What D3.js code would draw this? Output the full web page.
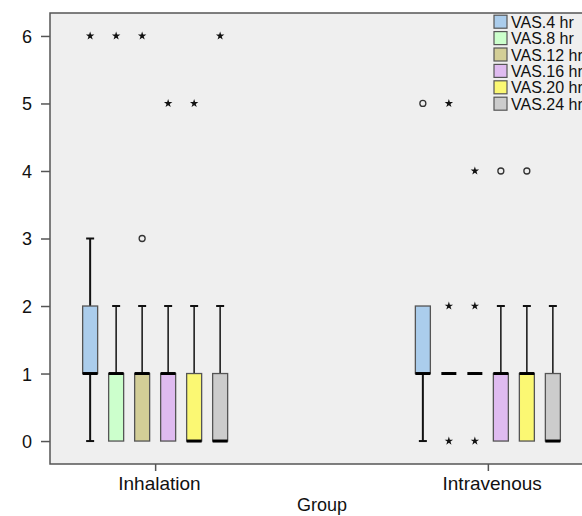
<!DOCTYPE html>
<html>
<head>
<meta charset="utf-8">
<script src="https://cdn.jsdelivr.net/npm/d3@7"></script>
<style>
  body { margin: 0; background: #fff; }
  text { font-family: "Liberation Sans", Arial, sans-serif; fill: #111; }
</style>
</head>
<body>
<div id="chart"></div>
<script>
var groups = ["Inhalation", "Intravenous"];
var series = ["VAS.4 hr", "VAS.8 hr", "VAS.12 hr", "VAS.16 hr", "VAS.20 hr", "VAS.24 hr"];
var colors = ["#abcdec", "#ccffcc", "#d3ce97", "#dfbbf0", "#fbf873", "#cccccc"];
var yTicks = [0, 1, 2, 3, 4, 5, 6];

// five number summaries, one value per series
var lowInh  = [0, 0, 0, 0, 0, 0];
var q1Inh   = [1, 0, 0, 0, 0, 0];
var medInh  = [1, 1, 1, 1, 0, 0];
var q3Inh   = [2, 1, 1, 1, 1, 1];
var highInh = [3, 2, 2, 2, 2, 2];

var lowIv  = [0, 1, 1, 0, 0, 0];
var q1Iv   = [1, 1, 1, 0, 0, 0];
var medIv  = [1, 1, 1, 1, 1, 0];
var q3Iv   = [2, 1, 1, 1, 1, 1];
var highIv = [2, 1, 1, 2, 2, 2];

// [group, series index, value]
var outliers = [["Inhalation", 2, 3], ["Intravenous", 0, 5], ["Intravenous", 3, 4], ["Intravenous", 4, 4]];
var extremes = [
  ["Inhalation", 0, 6], ["Inhalation", 1, 6], ["Inhalation", 2, 6],
  ["Inhalation", 3, 5], ["Inhalation", 4, 5], ["Inhalation", 5, 6],
  ["Intravenous", 1, 5], ["Intravenous", 1, 2], ["Intravenous", 1, 0],
  ["Intravenous", 2, 4], ["Intravenous", 2, 2], ["Intravenous", 2, 0]
];

var boxes = [];
groups.forEach(function(g, gi) {
  var lo = gi == 0 ? lowInh : lowIv, a = gi == 0 ? q1Inh : q1Iv, m = gi == 0 ? medInh : medIv,
      b = gi == 0 ? q3Inh : q3Iv, hi = gi == 0 ? highInh : highIv;
  series.forEach(function(s, i) {
    boxes.push({group: g, i: i, lo: lo[i], q1: a[i], med: m[i], q3: b[i], hi: hi[i]});
  });
});

var width = 582, height = 516;
var margin = {left: 50, top: 13, right: 593, bottom: 464};

var svg = d3.select("#chart").append("svg")
  .attr("width", width)
  .attr("height", height);

var x = d3.scalePoint().domain(groups).range([margin.left, margin.right]).padding(0.316);
var inner = d3.scaleBand().domain(d3.range(series.length)).range([-78, 78]);
var y = d3.scaleLinear().domain([-0.34, 6.34]).range([margin.bottom, margin.top]);

var bw = 15, cap = 8;
function cx(g, i) { return x(g) + inner(i) + inner.bandwidth() / 2; }

svg.append("rect")
  .attr("x", margin.left).attr("y", margin.top)
  .attr("width", margin.right - margin.left).attr("height", margin.bottom - margin.top)
  .attr("fill", "#efefef")
  .attr("stroke", "#555").attr("stroke-width", 1.5);

// y axis
var ya = svg.append("g").attr("transform", "translate(" + margin.left + ",0)")
  .call(d3.axisLeft(y).tickValues(yTicks).tickFormat(d3.format("d")).tickSize(9).tickPadding(9));
ya.select(".domain").remove();
ya.selectAll("line").attr("stroke", "#555").attr("stroke-width", 1.5);
ya.selectAll("text").style("font-size", "18px").attr("fill", "#111").attr("dy", "0.36em");

// x axis
var xa = svg.append("g").attr("transform", "translate(0," + margin.bottom + ")")
  .call(d3.axisBottom(x).tickSize(7).tickPadding(6));
xa.select(".domain").remove();
xa.selectAll("line").attr("stroke", "#555").attr("stroke-width", 1.5);
xa.selectAll("text").style("font-size", "19px").attr("fill", "#111").attr("dx", "0.2em");

svg.append("text")
  .attr("x", 322).attr("y", 511)
  .attr("text-anchor", "middle")
  .style("font-size", "18px")
  .text("Group");

var bg = svg.append("g").selectAll("g").data(boxes).enter().append("g");

// whiskers
bg.append("line")
  .attr("x1", d => cx(d.group, d.i)).attr("x2", d => cx(d.group, d.i))
  .attr("y1", d => y(d.hi)).attr("y2", d => y(d.q3))
  .attr("stroke", "#111").attr("stroke-width", d => d.i == 0 ? 2 : 1.5);
bg.append("line")
  .attr("x1", d => cx(d.group, d.i)).attr("x2", d => cx(d.group, d.i))
  .attr("y1", d => y(d.q1)).attr("y2", d => y(d.lo))
  .attr("stroke", "#111").attr("stroke-width", d => d.i == 0 ? 2 : 1.5);
bg.filter(d => d.hi > d.q3 || d.q3 == d.q1).append("line")
  .attr("x1", d => cx(d.group, d.i) - cap / 2).attr("x2", d => cx(d.group, d.i) + cap / 2)
  .attr("y1", d => y(d.hi)).attr("y2", d => y(d.hi))
  .attr("stroke", "#111").attr("stroke-width", 2);
bg.filter(d => d.lo < d.q1 || d.q3 == d.q1).append("line")
  .attr("x1", d => cx(d.group, d.i) - cap / 2).attr("x2", d => cx(d.group, d.i) + cap / 2)
  .attr("y1", d => y(d.lo)).attr("y2", d => y(d.lo))
  .attr("stroke", "#111").attr("stroke-width", 2);

// boxes
bg.filter(d => d.q3 > d.q1).append("rect")
  .attr("x", d => cx(d.group, d.i) - bw / 2)
  .attr("width", bw)
  .attr("y", d => y(d.q3))
  .attr("height", d => y(d.q1) - y(d.q3))
  .attr("fill", d => colors[d.i])
  .attr("stroke", "#555").attr("stroke-width", 1.3);

// medians
bg.append("line")
  .attr("x1", d => cx(d.group, d.i) - bw / 2).attr("x2", d => cx(d.group, d.i) + bw / 2)
  .attr("y1", d => y(d.med)).attr("y2", d => y(d.med))
  .attr("stroke", "#000").attr("stroke-width", 3);

// outliers
svg.append("g").selectAll("circle").data(outliers).enter().append("circle")
  .attr("cx", d => cx(d[0], d[1]))
  .attr("cy", d => y(d[2]))
  .attr("r", 3)
  .attr("fill", "none")
  .attr("stroke", "#333").attr("stroke-width", 1.3);

svg.append("g").selectAll("path").data(extremes).enter().append("path")
  .attr("d", d3.symbol(d3.symbolStar).size(22))
  .attr("transform", d => "translate(" + cx(d[0], d[1]) + "," + y(d[2]) + ")")
  .attr("fill", "#111");

// legend
var legend = svg.append("g").selectAll("g").data(series).enter().append("g")
  .attr("transform", (d, i) => "translate(494," + (21.7 + i * 16.4) + ")");
legend.append("rect")
  .attr("x", 0).attr("y", -6.5)
  .attr("width", 13).attr("height", 13)
  .attr("fill", (d, i) => colors[i])
  .attr("stroke", "#555").attr("stroke-width", 1.2);
legend.append("text")
  .attr("x", 17).attr("y", 6)
  .style("font-size", "16px")
  .text(d => d);
</script>
</body>
</html>
